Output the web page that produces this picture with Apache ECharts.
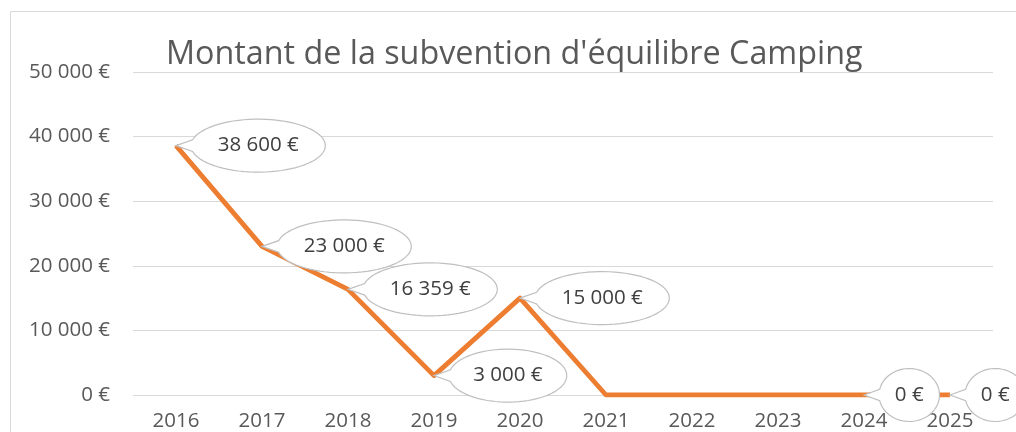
<!DOCTYPE html>
<html>
<head>
<meta charset="utf-8">
<script src="https://cdn.jsdelivr.net/npm/echarts@6/dist/echarts.min.js"></script>
<style>
html, body { margin: 0; padding: 0; background: #fff; }
#chart { width: 1016px; height: 432px; }
</style>
</head>
<body>
<div id="chart"></div>
<script>
const years = ['2016', '2017', '2018', '2019', '2020', '2021', '2022', '2023', '2024', '2025'];
const amounts = [38600, 23000, 16359, 3000, 15000, 0, 0, 0, 0, 0];
// years that carry a callout label in the original
const labelledYears = ['2016', '2017', '2018', '2019', '2020', '2024', '2025'];
const yTicks = [0, 10000, 20000, 30000, 40000, 50000];

const FONT = '"Open Sans", "Noto Sans", sans-serif';
const LABEL_SIZE = 20.5;
const fmt = (v) => String(v).replace(/\B(?=(\d{3})+(?!\d))/g, ' ') + ' €';

const measureCtx = document.createElement('canvas').getContext('2d');
measureCtx.font = LABEL_SIZE + 'px ' + FONT;
const measure = (t) => measureCtx.measureText(t).width;

const calloutData = labelledYears.map((y) => [y, amounts[years.indexOf(y)]]);

const chart = echarts.init(document.getElementById('chart'), null, { renderer: 'canvas' });

const option = {
  backgroundColor: '#fff',
  animation: false,
  title: {
    text: "Montant de la subvention d'équilibre Camping",
    left: 166,
    top: 39,
    padding: 0,
    textStyle: { fontFamily: FONT, fontSize: 32.3, fontWeight: 'normal', color: '#595959' },
  },
  graphic: [
    {
      type: 'rect',
      left: 8,
      top: 9,
      shape: { width: 1100, height: 500 },
      style: { fill: 'none', stroke: '#d9d9d9', lineWidth: 1 },
      silent: true,
    },
  ],
  grid: { left: 133, right: 23, top: 72, bottom: 37, containLabel: false },
  xAxis: {
    type: 'category',
    data: years,
    boundaryGap: true,
    axisLine: { show: false },
    axisTick: { show: false },
    axisLabel: { margin: 16, fontFamily: FONT, fontSize: LABEL_SIZE, color: '#595959' },
  },
  yAxis: {
    type: 'value',
    min: yTicks[0],
    max: yTicks[yTicks.length - 1],
    interval: yTicks[1] - yTicks[0],
    axisLine: { show: false },
    axisTick: { show: false },
    splitLine: { lineStyle: { color: '#d9d9d9', width: 1 } },
    axisLabel: { margin: 23, fontFamily: FONT, fontSize: LABEL_SIZE, color: '#595959', formatter: fmt },
  },
  series: [
    {
      type: 'line',
      data: amounts,
      showSymbol: false,
      lineStyle: { color: '#ED7D31', width: 4.8, join: 'round' },
      z: 2,
    },
    {
      type: 'custom',
      data: calloutData,
      encode: { x: 0, y: 1 },
      clip: false,
      z: 5,
      renderItem: function (params, api) {
        const p = api.coord([api.value(0), api.value(1)]);
        const txt = fmt(api.value(1));
        const w = measure(txt);
        const rx = (w / 2 + 7) * Math.SQRT2;
        const ry = 26.5;
        const cx = p[0] + 15 + rx;
        const cy = p[1];
        const a = 0.22;
        const pts = [[p[0], p[1]]];
        for (let i = 0; i <= 72; i++) {
          const t = Math.PI + a + (2 * Math.PI - 2 * a) * i / 72;
          pts.push([cx + rx * Math.cos(t), cy + ry * Math.sin(t)]);
        }
        return {
          type: 'group',
          children: [
            {
              type: 'polygon',
              shape: { points: pts },
              style: { fill: '#fff', stroke: '#bfbfbf', lineWidth: 1.2 },
            },
            {
              type: 'text',
              x: cx,
              y: cy,
              style: {
                text: txt,
                fill: '#404040',
                fontFamily: FONT,
                fontSize: LABEL_SIZE,
                align: 'center',
                verticalAlign: 'middle',
              },
            },
          ],
        };
      },
    },
  ],
};

chart.setOption(option);
</script>
</body>
</html>
